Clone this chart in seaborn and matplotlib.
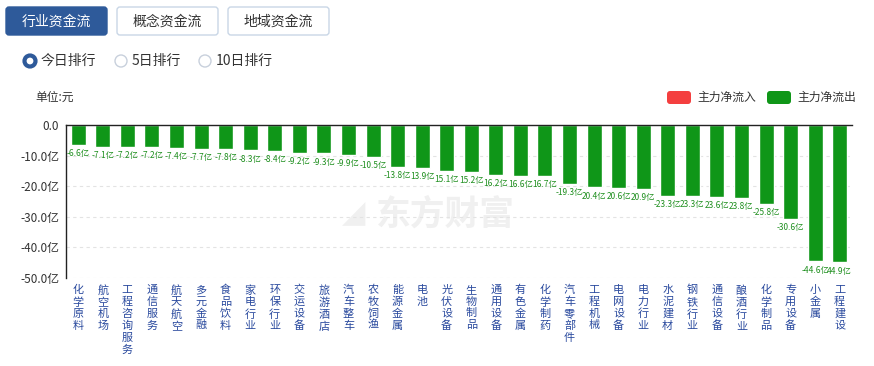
import matplotlib
matplotlib.use("Agg")
import matplotlib.pyplot as plt
import seaborn as sns
import pandas as pd
from matplotlib.patches import FancyBboxPatch, Circle

categories = ["化学原料", "航空机场", "工程咨询服务", "通信服务", "航天航空", "多元金融", "食品饮料",
              "家电行业", "环保行业", "交运设备", "旅游酒店", "汽车整车", "农牧饲渔", "能源金属",
              "电池", "光伏设备", "生物制品", "通用设备", "有色金属", "化学制药", "汽车零部件",
              "工程机械", "电网设备", "电力行业", "水泥建材", "钢铁行业", "通信设备", "酿酒行业",
              "化学制品", "专用设备", "小金属", "工程建设"]
values = [-6.6, -7.1, -7.2, -7.2, -7.4, -7.7, -7.8, -8.3, -8.4, -9.2, -9.3, -9.9, -10.5, -13.8,
          -13.9, -15.1, -15.2, -16.2, -16.6, -16.7, -19.3, -20.4, -20.6, -20.9, -23.3, -23.3,
          -23.6, -23.8, -25.8, -30.6, -44.6, -44.9]
# labels as they appear (minus sign hidden where neighbouring labels overlap)
value_labels = ["-6.6亿", "-7.1亿", "-7.2亿", "-7.2亿", "-7.4亿", "-7.7亿", "-7.8亿", "-8.3亿",
                "-8.4亿", "-9.2亿", "-9.3亿", "-9.9亿", "-10.5亿", "-13.8亿", "13.9亿", "15.1亿",
                "15.2亿", "16.2亿", "16.6亿", "16.7亿", "-19.3亿", "20.4亿", "20.6亿", "20.9亿",
                "-23.3亿", "23.3亿", "23.6亿", "23.8亿", "-25.8亿", "-30.6亿", "-44.6亿", "44.9亿"]
yticks = [0, -10, -20, -30, -40, -50]
ytick_labels = ["0.0", "-10.0亿", "-20.0亿", "-30.0亿", "-40.0亿", "-50.0亿"]
tabs = ["行业资金流", "概念资金流", "地域资金流"]
radios = ["今日排行", "5日排行", "10日排行"]
legend_labels = ["主力净流入", "主力净流出"]

sns.set_theme(style="white")
FONT = ["Noto Sans CJK SC", "DejaVu Sans"]
plt.rcParams["font.family"] = FONT

W, H = 874, 366
fig = plt.figure(figsize=(W / 100, H / 100), dpi=100)

# overlay for decorations in pixel coordinates
ov = fig.add_axes([0, 0, 1, 1], zorder=0)
ov.set_xlim(0, W)
ov.set_ylim(H, 0)
ov.axis("off")

GREEN = "#0f9618"
RED = "#f43f3f"
BLUE = "#2e5a9a"
TXT = "#333333"

# tabs
tab_x = [6, 117, 228]
for i, (t, x0) in enumerate(zip(tabs, tab_x)):
    sel = i == 0
    ov.add_patch(FancyBboxPatch((x0, 7), 101, 28, boxstyle="round,pad=0,rounding_size=3",
                                fc=BLUE if sel else "white", ec=BLUE if sel else "#c9d6e6", lw=1))
    ov.text(x0 + 50.5, 21.5, t, ha="center", va="center", fontsize=10,
            color="white" if sel else TXT)

# radio buttons
radio_x = [30, 121, 205]
for i, (t, x0) in enumerate(zip(radios, radio_x)):
    if i == 0:
        ov.add_patch(Circle((x0, 61), 5.5, fc="white", ec=BLUE, lw=3))
    else:
        ov.add_patch(Circle((x0, 61), 6, fc="white", ec="#c8d0dc", lw=1))
    ov.text(x0 + 11, 61, t, ha="left", va="center", fontsize=10, color=TXT)

ov.text(35, 97, "单位:元", ha="left", va="center", fontsize=8.5, color=TXT)

# legend
leg_x = [667, 767]
for i, (t, x0) in enumerate(zip(legend_labels, leg_x)):
    ov.add_patch(FancyBboxPatch((x0, 91), 24, 13, boxstyle="round,pad=0,rounding_size=3",
                                fc=RED if i == 0 else GREEN, ec="none"))
    ov.text(x0 + 30, 97.5, t, ha="left", va="center", fontsize=8.5, color=TXT)

# watermark
ov.text(376, 214, "东方财富", ha="left", va="center", fontsize=25, fontweight="bold",
        color="#f0f0f0")
ov.text(354, 214, "◢", ha="center", va="center", fontsize=22, color="#f0f0f0",
        family=["DejaVu Sans"])

# main axes
left, right, top, bottom = 66, 852, 125, 278
ax = fig.add_axes([left / W, 1 - bottom / H, (right - left) / W, (bottom - top) / H], zorder=1)
ax.set_facecolor("none")

df = pd.DataFrame({"cat": categories, "val": values})
sns.barplot(data=df, x="cat", y="val", color=GREEN, saturation=1, width=0.61, ax=ax,
            order=categories)
ax.set_xlim(-0.5, len(categories) - 0.5)
ax.set_ylim(-50, 0)
ax.set_yticks(yticks)
ax.set_yticklabels(ytick_labels, fontsize=8.5, color=TXT)
ax.tick_params(axis="y", length=0, pad=5)
ax.set_xlabel("")
ax.set_ylabel("")

for yt in yticks[1:]:
    ax.axhline(yt, color="#e3e3e3", lw=0.8, ls=(0, (3, 3)), zorder=0)

for s in ["right", "bottom"]:
    ax.spines[s].set_visible(False)
ax.spines["top"].set_color("#222222")
ax.spines["top"].set_linewidth(1)
ax.spines["left"].set_color("#222222")
ax.spines["left"].set_linewidth(1)

for i, (v, lab) in enumerate(zip(values, value_labels)):
    ax.annotate(lab, (i, v), xytext=(0, -3), textcoords="offset points", ha="center",
                va="top", fontsize=6, color="#1f8f1f")

ax.set_xticks(range(len(categories)))
ax.set_xticklabels(["\n".join(c) for c in categories], fontsize=8, color="#2a4a9e",
                   linespacing=1.2, va="top")
ax.tick_params(axis="x", length=0, pad=5)

fig.savefig("out.png", dpi=100)
